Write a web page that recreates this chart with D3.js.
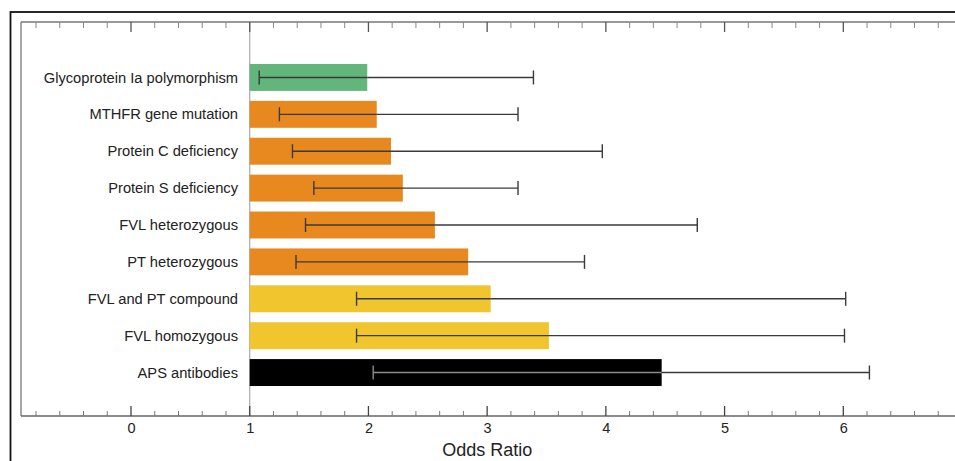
<!DOCTYPE html>
<html>
<head>
<meta charset="utf-8">
<script src="https://cdn.jsdelivr.net/npm/d3@7"></script>
<style>
  html, body { margin: 0; padding: 0; background: #fff; }
  svg { display: block; }
  text { font-family: "Liberation Sans", Arial, sans-serif; }
</style>
</head>
<body>
<svg id="chart" width="955" height="461"></svg>
<script>
// ---- data ----
const categories = [
  "Glycoprotein Ia polymorphism",
  "MTHFR gene mutation",
  "Protein C deficiency",
  "Protein S deficiency",
  "FVL heterozygous",
  "PT heterozygous",
  "FVL and PT compound",
  "FVL homozygous",
  "APS antibodies"
];
const oddsRatio = [1.99, 2.07, 2.19, 2.29, 2.56, 2.84, 3.03, 3.52, 4.47];
const ciLower   = [1.08, 1.25, 1.36, 1.54, 1.47, 1.39, 1.90, 1.90, 2.04];
const ciUpper   = [3.39, 3.26, 3.97, 3.26, 4.77, 3.82, 6.02, 6.01, 6.22];
const groups    = ["green", "orange", "orange", "orange", "orange", "orange", "yellow", "yellow", "black"];
const xTicks    = [0, 1, 2, 3, 4, 5, 6];
const xLabel    = "Odds Ratio";

// ---- styles ----
const groupColor = { green: "#62b57b", orange: "#e8891f", yellow: "#f0c52e", black: "#000000" };

const svg = d3.select("#chart");

const x = d3.scaleLinear().domain([0, 6]).range([131, 843.3]);
const plotLeft = 21, plotRight = 962, plotTop = 22, plotBottom = 416;

const y = d3.scaleBand().domain(categories).range([59, 391]).paddingInner(0.27).paddingOuter(0.135);

// outer border
svg.append("rect").attr("x", 10.5).attr("y", 12).attr("width", 960).attr("height", 470)
  .attr("fill", "none").attr("stroke", "#111").attr("stroke-width", 1.8);

// plot frame left line
svg.append("line").attr("x1", plotLeft).attr("x2", plotLeft).attr("y1", plotTop).attr("y2", plotBottom)
  .attr("stroke", "#777").attr("stroke-width", 1.3);

// reference line at OR = 1
svg.append("line").attr("x1", x(1)).attr("x2", x(1)).attr("y1", plotTop).attr("y2", plotBottom)
  .attr("stroke", "#aaa").attr("stroke-width", 1.2);

// minor ticks values
const minorVals = d3.range(-0.8, 7.0001, 0.2).map(v => Math.round(v * 10) / 10)
  .filter(v => Math.abs(v - Math.round(v)) > 1e-6 && x(v) > plotLeft + 2 && x(v) < 955);

// bottom axis
const bottomAxis = d3.axisBottom(x).tickValues(xTicks).tickSize(0).tickPadding(7).tickFormat(d3.format("d"));
const gB = svg.append("g").attr("transform", `translate(0,${plotBottom})`).call(bottomAxis);
gB.select(".domain").remove();
gB.selectAll("text").attr("font-size", 14.5).attr("fill", "#222")
  .attr("font-family", "'Liberation Sans', Arial, sans-serif");
svg.append("line").attr("x1", plotLeft).attr("x2", plotRight).attr("y1", plotBottom).attr("y2", plotBottom)
  .attr("stroke", "#666").attr("stroke-width", 1.5);
svg.selectAll(".bmaj").data(xTicks).enter().append("line")
  .attr("x1", d => x(d)).attr("x2", d => x(d)).attr("y1", plotBottom).attr("y2", plotBottom - 10)
  .attr("stroke", "#444").attr("stroke-width", 1.3);
svg.selectAll(".bmin").data(minorVals).enter().append("line")
  .attr("x1", d => x(d)).attr("x2", d => x(d)).attr("y1", plotBottom).attr("y2", plotBottom - 5)
  .attr("stroke", "#777").attr("stroke-width", 1);

// top axis
svg.append("line").attr("x1", plotLeft).attr("x2", plotRight).attr("y1", plotTop).attr("y2", plotTop)
  .attr("stroke", "#777").attr("stroke-width", 1.5);
svg.selectAll(".tmaj").data(xTicks).enter().append("line")
  .attr("x1", d => x(d)).attr("x2", d => x(d)).attr("y1", plotTop).attr("y2", plotTop + 10)
  .attr("stroke", "#555").attr("stroke-width", 1.3);
svg.selectAll(".tmin").data(minorVals).enter().append("line")
  .attr("x1", d => x(d)).attr("x2", d => x(d)).attr("y1", plotTop).attr("y2", plotTop + 6)
  .attr("stroke", "#888").attr("stroke-width", 1);

// axis title
svg.append("text").attr("x", x(3)).attr("y", 456).attr("text-anchor", "middle")
  .attr("font-size", 18).attr("fill", "#222").text(xLabel);

// bars
const rows = categories.map((c, i) => ({ c, or: oddsRatio[i], lo: ciLower[i], hi: ciUpper[i], g: groups[i] }));

svg.selectAll(".bar").data(rows).enter().append("rect")
  .attr("x", x(1)).attr("y", d => y(d.c))
  .attr("width", d => x(d.or) - x(1)).attr("height", y.bandwidth())
  .attr("fill", d => groupColor[d.g]);

// error bars
const cap = 14;
rows.forEach(d => {
  const cy = y(d.c) + y.bandwidth() / 2;
  const col = d.g === "black" ? "#8a8a8a" : "#3a3a3a";
  const g = svg.append("g").attr("stroke", col).attr("stroke-width", 1.4);
  g.append("line").attr("x1", x(d.lo)).attr("x2", x(d.or)).attr("y1", cy).attr("y2", cy);
  g.append("line").attr("x1", x(d.or)).attr("x2", x(d.hi)).attr("y1", cy).attr("y2", cy).attr("stroke", "#3a3a3a");
  g.append("line").attr("x1", x(d.lo)).attr("x2", x(d.lo)).attr("y1", cy - cap / 2).attr("y2", cy + cap / 2);
  g.append("line").attr("x1", x(d.hi)).attr("x2", x(d.hi)).attr("y1", cy - cap / 2).attr("y2", cy + cap / 2)
    .attr("stroke", "#3a3a3a");
});

// category labels
svg.selectAll(".lab").data(rows).enter().append("text")
  .attr("x", 238).attr("y", d => y(d.c) + y.bandwidth() / 2)
  .attr("dy", "0.35em").attr("text-anchor", "end")
  .attr("font-size", 14.7).attr("fill", "#222").text(d => d.c);
</script>
</body>
</html>
